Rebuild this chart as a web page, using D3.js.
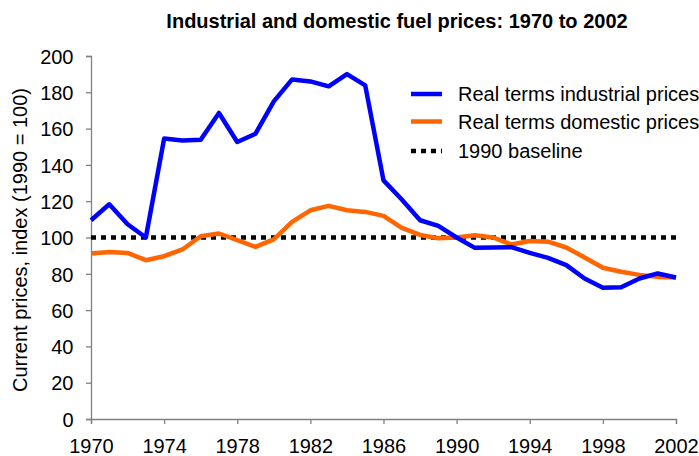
<!DOCTYPE html>
<html>
<head>
<meta charset="utf-8">
<script src="https://cdn.jsdelivr.net/npm/d3@7"></script>
<style>
  body { margin: 0; background: #fff; }
  text { font-family: "Liberation Sans", Arial, sans-serif; fill: #000; }
</style>
</head>
<body>
<svg id="chart"></svg>
<script>
const years = d3.range(1970, 2003);
const industrial = [109.5, 118.3, 107.3, 100, 154.5, 153.5, 153.9, 168.6, 152.6, 157.2, 175,
  187.1, 186, 183.3, 190, 183.8, 131.5, 120.9, 109.5, 106.4, 100,
  94.3, 94.5, 94.7, 91.5, 88.8, 84.8, 77.4, 72.3, 72.6, 77.4, 80.2, 78];
const domestic = [91.2, 92, 91.5, 87.5, 89.7, 93.4, 100.7, 102.2, 98.5, 94.8, 99,
  108.6, 115, 117.4, 115, 114.1, 111.9, 105.3, 101.4, 99.6, 100,
  101.2, 100, 96.1, 98.1, 97.7, 94.5, 89, 83.3, 81.1, 79.4, 78.3, 78];
const baseline = years.map(() => 100);
const xTicks = [1970, 1974, 1978, 1982, 1986, 1990, 1994, 1998, 2002];
const yTicks = d3.range(0, 201, 20);
const legendLabels = ['Real terms industrial prices', 'Real terms domestic prices', '1990 baseline'];

const svgWidth = 699, svgHeight = 456;
const plotLeft = 91, plotRight = 676, plotTop = 56, plotBottom = 419;

const xScale = d3.scaleLinear().domain([1970, 2002]).range([plotLeft, plotRight]);
const yScale = d3.scaleLinear().domain([0, 200]).range([plotBottom, plotTop]);

const svg = d3.select('#chart')
    .attr('width', svgWidth)
    .attr('height', svgHeight);

// title
svg.append('text')
    .attr('x', 397)
    .attr('y', 27.5)
    .attr('text-anchor', 'middle')
    .style('font-weight', 'bold')
    .style('font-size', '20px')
    .text('Industrial and domestic fuel prices: 1970 to 2002');

// axes
const yAxis = svg.append('g')
    .attr('transform', `translate(${plotLeft},0)`)
    .call(d3.axisLeft(yScale).tickValues(yTicks).tickSize(5).tickPadding(12.5));
const xAxis = svg.append('g')
    .attr('transform', `translate(0,${plotBottom})`)
    .call(d3.axisBottom(xScale).tickValues(xTicks).tickFormat(d3.format('d')).tickSize(5).tickPadding(14.5));

[xAxis, yAxis].forEach(function (g) {
    g.selectAll('path, line').attr('stroke', '#808080').attr('stroke-width', 1.3);
    g.selectAll('text')
        .style('font-size', '20px')
        .style('font-family', '"Liberation Sans", Arial, sans-serif')
        .attr('fill', '#000');
});
yAxis.selectAll('text').attr('dy', '0.36em');

svg.append('text')
    .attr('transform', `translate(27,240) rotate(-90)`)
    .attr('text-anchor', 'middle')
    .style('font-size', '20px')
    .text('Current prices, index (1990 = 100)');

// lines
const line = d3.line()
    .x((d, i) => xScale(years[i]))
    .y(d => yScale(d));

svg.append('path')
    .datum(baseline)
    .attr('d', line)
    .attr('fill', 'none')
    .attr('stroke', '#000')
    .attr('stroke-width', 4.5)
    .attr('stroke-dasharray', '5,5');

svg.append('path')
    .datum(domestic)
    .attr('d', line)
    .attr('fill', 'none')
    .attr('stroke', '#ff6600')
    .attr('stroke-width', 4.5)
    .attr('stroke-linejoin', 'round');

svg.append('path')
    .datum(industrial)
    .attr('d', line)
    .attr('fill', 'none')
    .attr('stroke', '#0000ff')
    .attr('stroke-width', 4.5)
    .attr('stroke-linejoin', 'round');

// legend
const legendColors = ['#0000ff', '#ff6600', '#000'];
const legendY = [94, 121.5, 151];
const legend = svg.selectAll('.legend')
    .data(legendLabels)
    .enter()
    .append('g')
    .attr('class', 'legend')
    .attr('transform', (d, i) => `translate(411,${legendY[i]})`);

legend.append('line')
    .attr('x1', 0)
    .attr('x2', 31)
    .attr('stroke', (d, i) => legendColors[i])
    .attr('stroke-width', 4.5)
    .attr('stroke-dasharray', (d, i) => i === 2 ? '5,5' : null);

legend.append('text')
    .attr('x', 47)
    .attr('dy', '0.36em')
    .style('font-size', '20px')
    .text(d => d);
</script>
</body>
</html>
